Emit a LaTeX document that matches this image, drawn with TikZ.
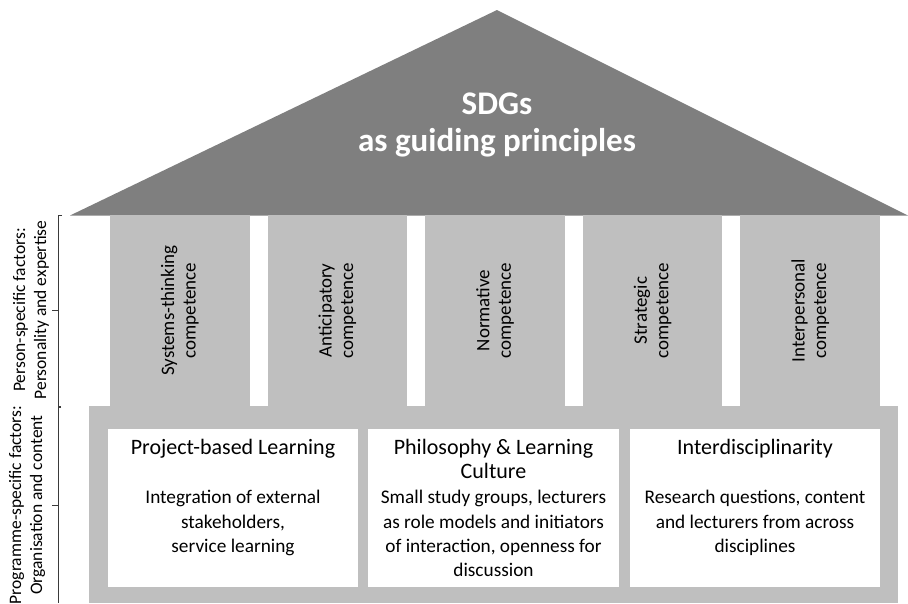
\documentclass[tikz,border=0pt]{standalone}
\usepackage{fontspec}
\setmainfont{Carlito}
\definecolor{roofgray}{HTML}{7F7F7F}
\definecolor{colgray}{HTML}{BFBFBF}
\definecolor{linegray}{HTML}{3A3A3A}
\begin{document}
\begin{tikzpicture}[x=1pt,y=-1pt,
  pillar/.style={fill=colgray, draw=none, rotate=90, minimum width=191pt,
    minimum height=139.6pt, inner sep=0pt, align=center,
    font=\fontsize{19}{21.5}\selectfont},
  wbox/.style={fill=white, draw=none, minimum width=250pt, minimum height=158pt, inner sep=0pt},
  title/.style={anchor=north, inner sep=0pt, align=center, font=\fontsize{22}{24.5}\selectfont},
  body/.style={anchor=north, inner sep=0pt, align=center, font=\fontsize{19.3}{24.4}\selectfont},
  sidelabel/.style={rotate=90, align=center, inner sep=0pt, font=\fontsize{17.5}{21}\selectfont},
  bracket/.style={draw=linegray, line width=0.9pt}
]
\useasboundingbox (0,0) rectangle (908,603);
% base
\fill[colgray] (89,406) rectangle (898,603);
% roof
\fill[roofgray] (70,215.5) -- (497,10) -- (908,215.5) -- cycle;
\node[text=white, inner sep=0pt, anchor=base,
  font=\fontsize{33}{36}\bfseries] (sdg) at (497,114) {SDGs};
\node[text=white, inner sep=0pt, anchor=base,
  font=\fontsize{33}{36}\bfseries] (guide) at (497,151) {as guiding principles};
% pillars
\node[pillar] (p1) at (179.8,310.5) {Systems-thinking\\competence};
\node[pillar] (p2) at (337.4,310.5) {Anticipatory\\competence};
\node[pillar] (p3) at (495.0,310.5) {Normative\\competence};
\node[pillar] (p4) at (652.6,310.5) {Strategic\\competence};
\node[pillar] (p5) at (810.2,310.5) {Interpersonal\\competence};
% boxes
\node[wbox] (b1) at (233,508) {};
\node[wbox, minimum width=251pt] (b2) at (493.5,508) {};
\node[wbox] (b3) at (755,508) {};
\node[title] (t1) at (233,439) {Project-based Learning};
\node[title] (t2) at (493.5,439) {Philosophy \& Learning\\Culture};
\node[title] (t3) at (755,439) {Interdisciplinarity};
\node[body] (d1) at (233,490) {Integration of external\\stakeholders,\\service learning};
\node[body] (d2) at (493.5,490) {Small study groups, lecturers\\as role models and initiators\\of interaction, openness for\\discussion};
\node[body] (d3) at (755,490) {Research questions, content\\and lecturers from across\\disciplines};
% side brackets
\coordinate (u0) at (58,215);
\coordinate (um) at (58,310);
\coordinate (u1) at (58,406.5);
\coordinate (l0) at (58,407.5);
\coordinate (lm) at (58,505);
\coordinate (l1) at (58,603);
\draw[bracket] ([xshift=4pt]u0) -- (u0) -- (u1) -- ++(3,0);
\draw[bracket] ([xshift=3pt]l0) -- (l0) -- (l1);
\draw[bracket] (um) -- ++(-6,0);
\draw[bracket] (lm) -- ++(-6,0);
\node[sidelabel] (s1) at (31,310) {Person-specific factors:\\Personality and expertise};
\node[sidelabel] (s2) at (27,505) {Programme-specific factors:\\Organisation and content};
\end{tikzpicture}
\end{document}
